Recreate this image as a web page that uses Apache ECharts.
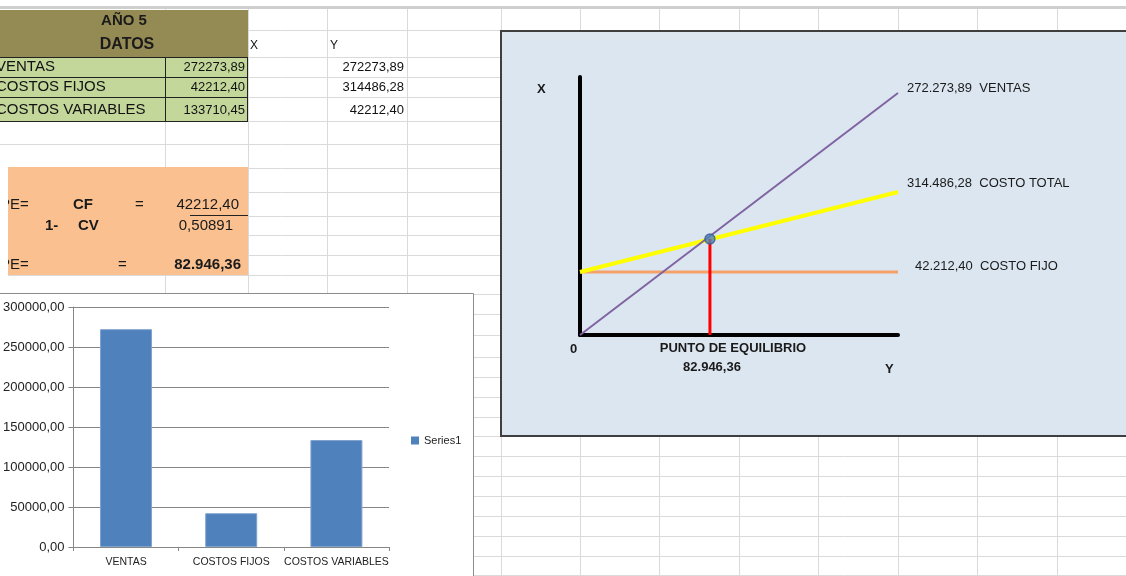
<!DOCTYPE html>
<html>
<head>
<meta charset="utf-8">
<script src="https://cdn.jsdelivr.net/npm/echarts@6/dist/echarts.min.js"></script>
<style>
html,body{margin:0;padding:0;background:#fff;}
#c{width:1126px;height:576px;}
</style>
</head>
<body>
<div id="c"></div>
<script>
// ---- data ----
const categories = ['VENTAS', 'COSTOS FIJOS', 'COSTOS VARIABLES'];
const barValues = [272273.89, 42212.40, 133710.45];
const yAxisMax = 300000;
const yAxisStep = 50000;
const seriesName = 'Series1';

// break-even diagram (schematic)
const diagX = [0, 203000];
const ventasY = [0, 162270];
const costoTotalY = [42212.40, 95890];
const costoFijoY = [42212.40, 42212.40];
const equilibrioX = 82946.36;
const equilibrioY = 64370;
const diagXMax = 203000;
const diagYMax = 173000;

// table texts
const tableLabels = ['VENTAS', 'COSTOS FIJOS', 'COSTOS VARIABLES'];
const tableValues = ['272273,89', '42212,40', '133710,45'];
const yColValues = ['272273,89', '314486,28', '42212,40'];

const FONT = "'Liberation Sans', Arial, sans-serif";
const NARROW = "'Liberation Sans Narrow', 'Liberation Sans', Arial, sans-serif";

// ---- spreadsheet decoration ----
const colX = [165, 248, 327, 407, 501, 580, 659, 739, 818, 898, 977, 1057];
const rowY = [30, 57, 77, 97, 121, 144, 168, 192, 216, 235, 255, 275, 294, 314, 335, 357, 377, 397, 417, 436, 456, 476, 496, 516, 536, 556, 575];
const g = [];
colX.forEach(x => g.push({type:'line', z:-20, shape:{x1:x+0.5,y1:8,x2:x+0.5,y2:576}, style:{stroke:'#dadada', lineWidth:1}}));
rowY.forEach(y => g.push({type:'line', z:-20, shape:{x1:0,y1:y+0.5,x2:1126,y2:y+0.5}, style:{stroke:'#dadada', lineWidth:1}}));
g.push({type:'rect', z:-19, shape:{x:0,y:6,width:1126,height:3}, style:{fill:'#cfcfcf'}});

// olive header
g.push({type:'rect', z:-10, shape:{x:0,y:10,width:248,height:47}, style:{fill:'#948a54'}});
g.push({type:'text', z:10, style:{x:124,y:21,text:'AÑO 5',fill:'#1a1a1a',font:"bold 15px "+FONT,align:'center',verticalAlign:'middle'}});
g.push({type:'text', z:10, style:{x:127,y:45,text:'DATOS',fill:'#1a1a1a',font:"bold 16px "+FONT,align:'center',verticalAlign:'middle'}});
// green table
g.push({type:'rect', z:-10, shape:{x:0,y:57,width:248,height:64}, style:{fill:'#c4d79b'}});
[57,77,97,121].forEach(y => g.push({type:'line', z:-9, shape:{x1:0,y1:y+0.5,x2:248,y2:y+0.5}, style:{stroke:'#222',lineWidth:1}}));
[165,247].forEach(x => g.push({type:'line', z:-9, shape:{x1:x+0.5,y1:57,x2:x+0.5,y2:121}, style:{stroke:'#222',lineWidth:1}}));
const rowMid = [67, 87, 110];
tableLabels.forEach((t,i) => g.push({type:'text', z:10, style:{x:-4,y:rowMid[i],text:t,fill:'#111',font:"15px "+FONT,verticalAlign:'middle'}}));
tableValues.forEach((t,i) => g.push({type:'text', z:10, style:{x:245,y:rowMid[i],text:t,fill:'#111',font:"13px "+FONT,align:'right',verticalAlign:'middle'}}));
yColValues.forEach((t,i) => g.push({type:'text', z:10, style:{x:404,y:rowMid[i],text:t,fill:'#111',font:"13px "+FONT,align:'right',verticalAlign:'middle'}}));
g.push({type:'text', z:10, style:{x:250,y:46,text:'X',fill:'#111',font:"12px "+FONT,verticalAlign:'middle'}});
g.push({type:'text', z:10, style:{x:330,y:46,text:'Y',fill:'#111',font:"12px "+FONT,verticalAlign:'middle'}});

// orange formula block
g.push({type:'rect', z:-10, shape:{x:8,y:167,width:240,height:108}, style:{fill:'#fac090'}});
const otxt = (x,y,t,bold,align) => g.push({type:'text', z:10, style:{x:x,y:y,text:t,fill:'#1a1a1a',font:(bold?'bold ':'')+"15px "+FONT,align:align||'left',verticalAlign:'middle'}});
otxt(0,205,'PE=');
otxt(73,205,'CF',true);
otxt(135,205,'=');
otxt(239,205,'42212,40',false,'right');
otxt(45,226,'1-',true);
otxt(78,226,'CV',true);
otxt(233,226,'0,50891',false,'right');
otxt(0,265,'PE=');
otxt(118,265,'=');
otxt(241,265,'82.946,36',true,'right');
g.push({type:'line', z:11, shape:{x1:190,y1:215.5,x2:248,y2:215.5}, style:{stroke:'#222',lineWidth:1}});
g.push({type:'rect', z:12, shape:{x:0,y:160,width:8,height:120}, style:{fill:'#fff'}});

// bar chart box
g.push({type:'rect', z:-5, shape:{x:-3,y:293.5,width:476.5,height:290}, style:{fill:'#fff',stroke:'#8c8c8c',lineWidth:1}});
// diagram box
g.push({type:'rect', z:-5, shape:{x:501,y:31,width:640,height:405}, style:{fill:'#dce6f1',stroke:'#3f3f3f',lineWidth:2}});
// diagram labels
const dtxt = (x,y,t,bold,align) => g.push({type:'text', z:10, style:{x:x,y:y,text:t,fill:'#1a1a1a',font:(bold?'bold ':'')+"13px "+NARROW,align:align||'left',verticalAlign:'middle'}});
dtxt(907,88,'272.273,89  VENTAS');
dtxt(907,183,'314.486,28  COSTO TOTAL');
dtxt(915,266,'42.212,40  COSTO FIJO');
dtxt(537,89,'X',true);
dtxt(570,349,'0',true);
dtxt(733,348,'PUNTO DE EQUILIBRIO',true,'center');
dtxt(712,367,'82.946,36',true,'center');
dtxt(885,369,'Y',true);

const chart = echarts.init(document.getElementById('c'), null, {renderer:'canvas'});
const pairs = (xs, ys) => xs.map((x,i) => [x, ys[i]]);

chart.setOption({
  animation: false,
  backgroundColor: '#fff',
  graphic: g,
  legend: {
    data: [seriesName],
    left: 406, top: 430,
    icon: 'rect', itemWidth: 8, itemHeight: 8, itemGap: 4,
    itemStyle: {borderWidth: 0},
    textStyle: {fontFamily: FONT, fontSize: 11, color: '#222'}
  },
  grid: [
    {left: 73, top: 307, width: 316, height: 240},
    {left: 580, top: 77, width: 318, height: 258}
  ],
  xAxis: [
    {type:'category', gridIndex:0, data: categories,
     axisLine:{lineStyle:{color:'#868686'}},
     axisTick:{show:true, length:4, lineStyle:{color:'#868686'}},
     axisLabel:{fontFamily:FONT, fontSize:10.5, color:'#222', margin:10, interval:0}},
    {type:'value', gridIndex:1, min:0, max:diagXMax,
     axisLine:{show:true, onZero:false, lineStyle:{color:'#000', width:4}},
     axisTick:{show:false}, axisLabel:{show:false}, splitLine:{show:false}}
  ],
  yAxis: [
    {type:'value', gridIndex:0, min:0, max:yAxisMax, interval:yAxisStep,
     axisLine:{show:true, lineStyle:{color:'#868686'}},
     axisTick:{show:true, length:5, lineStyle:{color:'#868686'}},
     splitLine:{lineStyle:{color:'#868686'}},
     axisLabel:{fontFamily:FONT, fontSize:13, color:'#222', margin:9,
       formatter: v => v.toFixed(2).replace('.', ',')}},
    {type:'value', gridIndex:1, min:0, max:diagYMax,
     axisLine:{show:true, onZero:false, lineStyle:{color:'#000', width:4}},
     axisTick:{show:false}, axisLabel:{show:false}, splitLine:{show:false}}
  ],
  series: [
    {name: seriesName, type:'bar', xAxisIndex:0, yAxisIndex:0, data: barValues,
     barWidth: 52, itemStyle:{color:'#4f81bd', borderColor:'#7fa3d0', borderWidth:1}},
    {name:'COSTO FIJO', type:'line', xAxisIndex:1, yAxisIndex:1, data: pairs(diagX, costoFijoY),
     symbol:'none', lineStyle:{color:'#f4a26a', width:3}},
    {name:'COSTO TOTAL', type:'line', xAxisIndex:1, yAxisIndex:1, data: pairs(diagX, costoTotalY),
     symbol:'none', lineStyle:{color:'#ffff00', width:4}},
    {name:'VENTAS', type:'line', xAxisIndex:1, yAxisIndex:1, data: pairs(diagX, ventasY),
     symbol:'none', lineStyle:{color:'#8064a2', width:2}},
    {name:'EQUILIBRIO', type:'line', xAxisIndex:1, yAxisIndex:1,
     data: [[equilibrioX, 0], [equilibrioX, equilibrioY]],
     symbol:'none', lineStyle:{color:'#ff0000', width:3}},
    {name:'PE', type:'scatter', xAxisIndex:1, yAxisIndex:1,
     data: [[equilibrioX, equilibrioY]], symbolSize: 10,
     itemStyle:{color:'#4f81bd', borderColor:'#385d8a', borderWidth:1.5}, z:5}
  ]
});
</script>
</body>
</html>
